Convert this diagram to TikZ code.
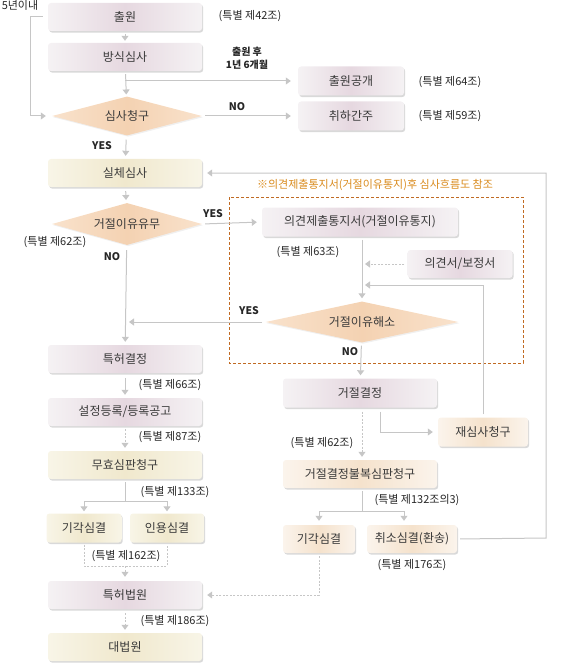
\documentclass[tikz,border=0pt]{standalone}
\usepackage{fontspec}
\setmainfont{Noto Sans CJK KR}
\usepackage{tikz}
\usetikzlibrary{positioning}
\usetikzlibrary{arrows.meta,shapes.geometric,shadows}
\usepackage{color}

\definecolor{linegray}{HTML}{C6C6C6}
\definecolor{textgray}{HTML}{3A3A3A}
\definecolor{notegray}{HTML}{262626}
\definecolor{pinkedge}{HTML}{F5F2F4}
\definecolor{pinkmid}{HTML}{E6D8E0}
\definecolor{yeledge}{HTML}{F8F5E7}
\definecolor{yelmid}{HTML}{F0E8CD}
\definecolor{peachedge}{HTML}{FBF4EC}
\definecolor{peachmid}{HTML}{F5E2CC}
\definecolor{dmdedge}{HTML}{F9E2CC}
\definecolor{dmdmid}{HTML}{F4D2B2}
\definecolor{refnote}{HTML}{D98A1C}
\definecolor{refframe}{HTML}{C06A22}

\begin{document}
\begin{tikzpicture}[x=1pt,y=-1pt,
 box/.style={rounded corners=3pt,minimum width=154pt,minimum height=28pt,inner sep=0pt,
  font=\fontsize{12}{14}\selectfont,text=textgray,
  drop shadow={shadow xshift=1.2pt,shadow yshift=-1.6pt,opacity=.3}},
 pinkbox/.style={box,left color=pinkedge,right color=pinkedge,middle color=pinkmid},
 yelbox/.style={box,left color=yeledge,right color=yeledge,middle color=yelmid},
 peachbox/.style={box,left color=peachedge,right color=peachedge,middle color=peachmid},
 decide/.style={diamond,aspect=4,minimum width=150pt,minimum height=39pt,inner sep=1pt,
  left color=dmdedge,right color=dmdedge,middle color=dmdmid,
  font=\fontsize{12}{14}\selectfont,text=textgray,
  drop shadow={shadow xshift=1pt,shadow yshift=-1.2pt,opacity=.12}},
 link/.style={draw=linegray,line width=1pt},
 flow/.style={link,-{Triangle[width=7pt,length=5pt]}},
 dlink/.style={link,dash pattern=on 2pt off 1.5pt},
 dflow/.style={flow,dash pattern=on 2pt off 1.5pt},
 note/.style={font=\fontsize{11}{13}\selectfont,text=notegray,inner sep=0pt},
 yn/.style={font=\fontsize{10.5}{12}\bfseries\selectfont,text=notegray,inner sep=0pt}]
 \useasboundingbox (0,0) rectangle (570,663);

 % main column
 \node[pinkbox] (chulwon) at (125,17) {출원};
 \node[pinkbox] (bangsik) at (125,57) {방식심사};
 \node[decide] (simsa) at (127,116) {심사청구};
 \node[yelbox] (silche) at (125,173) {실체심사};
 \node[decide,minimum height=42pt] (geojeol) at (127,224) {거절이유유무};
 \node[pinkbox] (teukheo) at (125,359) {특허결정};
 \node[pinkbox] (deungrok) at (125,412) {설정등록/등록공고};
 \node[yelbox] (muhyo) at (125,465) {무효심판청구};
 \node[yelbox,minimum width=75pt,minimum height=29pt] (gigakL) at (84,528) {기각심결};
 \node[yelbox,minimum width=74pt,minimum height=29pt] (inyong) at (167,528) {인용심결};
 \node[pinkbox] (beobwon) at (125,595) {특허법원};
 \node[yelbox] (daebeob) at (125,647) {대법원};

 % right side
 \node[pinkbox,minimum width=106pt,minimum height=29pt] (gonggae) at (351,81) {출원공개};
 \node[pinkbox,minimum width=106pt,minimum height=29pt] (chwiha) at (351,116) {취하간주};
 \node[pinkbox,minimum width=196pt,minimum height=29pt] (tongji) at (360,222) {의견제출통지서(거절이유통지)};
 \node[pinkbox,minimum width=105pt] (uigyeon) at (460,264) {의견서/보정서};
 \node[decide,minimum width=193pt,minimum height=41pt] (haeso) at (362,322) {거절이유해소};
 \node[pinkbox,minimum height=29pt] (geojeolgj) at (360,393) {거절결정};
 \node[peachbox,minimum width=90pt,minimum height=29pt] (jaesimsa) at (483,432) {재심사청구};
 \node[peachbox] (bulbok) at (360,474) {거절결정불복심판청구};
 \node[peachbox,minimum width=72pt] (gigakR) at (319,539) {기각심결};
 \node[peachbox,minimum width=90pt] (chwiso) at (412,539) {취소심결(환송)};

 % reference frame
 \draw[draw=refframe,line width=1pt,dash pattern=on 3pt off 2pt] (229,197) rectangle (523,363);
 \node[font=\fontsize{11}{13}\selectfont,text=refnote,inner sep=0pt] (refnote) at (375,185)
  {※의견제출통지서(거절이유통지)후 심사흐름도 참조};

 % connectors
 \coordinate (ret) at (362,285);
 \coordinate (split1) at (125,501);
 \coordinate (split2) at (362,511);
 \coordinate (bracket) at (125,566);
 \coordinate (loop) at (546,538);
 \draw[flow,shorten <=3pt,shorten >=2pt] (chulwon) -- (bangsik);
 \draw[flow,shorten <=3pt,shorten >=2pt] (bangsik) -- (simsa);
 \draw[flow,shorten >=7pt] (bangsik.south |- gonggae.west) -- (gonggae.west);
 \draw[flow,shorten <=5pt,shorten >=6pt] (chulwon.west) -- ++(-17,0) |- (simsa.west);
 \draw[flow,shorten <=3pt,shorten >=7pt] (simsa.east) -- (chwiha.west);
 \draw[flow,shorten <=4pt,shorten >=3pt] (simsa) -- (silche);
 \draw[flow,shorten <=4pt,shorten >=3pt] (silche) -- (geojeol);
 \draw[flow,shorten <=3pt,shorten >=5pt] (geojeol.east) -- (tongji.west);
 \draw[flow,shorten <=5pt,shorten >=3pt] (geojeol) -- (teukheo);
 \draw[flow,shorten <=3pt,shorten >=3pt] (tongji.south -| haeso) -- (haeso.north);
 \draw[dflow,shorten <=3pt,shorten >=3pt] (uigyeon.west) -- (uigyeon.west -| haeso);
 \draw[flow,shorten <=3pt,shorten >=3pt] (jaesimsa.north) |- (ret);
 \draw[flow,shorten <=3pt,shorten >=4pt] (haeso.west) -- (haeso.west -| teukheo);
 \draw[flow,shorten <=3pt,shorten >=3pt] (haeso) -- (geojeolgj);
 \draw[flow,shorten <=4pt,shorten >=5pt] ([xshift=20pt]geojeolgj.south) |- (jaesimsa.west);
 \draw[dflow,shorten <=4pt,shorten >=3pt] ([xshift=2pt]geojeolgj.south) -- ([xshift=2pt]bulbok.north);
 \draw[link,shorten <=3pt] (bulbok.south -| split2) -- (split2);
 \draw[flow,shorten >=4pt] (split2) -| (gigakR.north);
 \draw[flow,shorten >=4pt] (split2) -| ([xshift=-8pt]chwiso.north);
 \draw[flow,shorten <=3pt,shorten >=5pt] (chwiso.east) -- (loop) |- (silche.east);
 \draw[dflow,shorten <=3pt,shorten >=5pt] (gigakR.south) |- (beobwon.east);
 \draw[flow,shorten <=5pt,shorten >=3pt] (teukheo) -- (deungrok);
 \draw[dflow,shorten <=3pt,shorten >=3pt] (deungrok) -- (muhyo);
 \draw[link,shorten <=3pt] (muhyo) -- (split1);
 \draw[flow,shorten >=2pt] (split1) -| (gigakL.north);
 \draw[flow,shorten >=2pt] (split1) -| (inyong.north);
 \draw[dlink,shorten <=2pt,shorten >=2pt] (gigakL.south) |- (bracket) -| (inyong.south);
 \draw[dflow,shorten >=4pt] (bracket) -- (beobwon.north);
 \draw[dflow,shorten <=4pt,shorten >=3pt] (beobwon) -- (daebeob);

 % labels
 \node[note] (limit) at (20,5) {5년이내};
 \node[note] (law42) at (250,16) {(특별 제42조)};
 \node[yn,align=center,font=\fontsize{10}{13}\bfseries\selectfont] (after) at (247,58) {출원 후\\1년 6개월};
 \node[note] (law64) at (450,82) {(특별 제64조)};
 \node[note] (law59) at (450,116) {(특별 제59조)};
 \node[yn] (no1) at (237,107) {NO};
 \node[yn] (yes1) at (102,146) {YES};
 \node[yn] (yes2) at (213,214) {YES};
 \node[note] (law62a) at (55,242) {(특별 제62조)};
 \node[yn] (no2) at (112,257) {NO};
 \node[note] (law63) at (308,252) {(특별 제63조)};
 \node[yn] (yes3) at (249,311) {YES};
 \node[yn] (no3) at (350,352) {NO};
 \node[note] (law66) at (170,385) {(특별 제66조)};
 \node[note] (law87) at (170,437) {(특별 제87조)};
 \node[note] (law133) at (175,492) {(특별 제133조)};
 \node[note] (law162) at (126,556) {(특별 제162조)};
 \node[note] (law186) at (175,621) {(특별 제186조)};
 \node[note] (law62b) at (322,443) {(특별 제62조)};
 \node[note] (law132) at (417,500) {(특별 제132조의3)};
 \node[note] (law176) at (412,565) {(특별 제176조)};
\end{tikzpicture}
\end{document}
